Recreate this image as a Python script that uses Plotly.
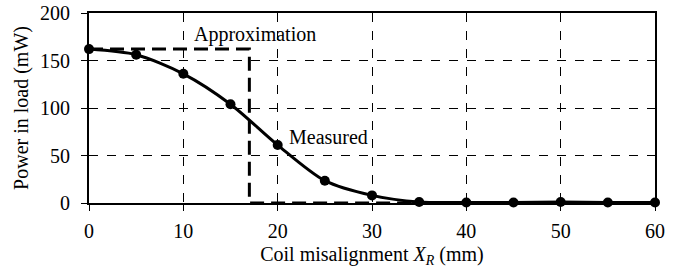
import plotly.graph_objects as go

x_measured = [0, 5, 10, 15, 20, 25, 30, 35, 40, 45, 50, 55, 60]
y_measured = [162, 156, 136, 104, 61, 23.5, 8, 1, 0.5, 0.5, 1, 0.5, 0.5]

x_approx = [0, 17, 17, 35]
y_approx = [162, 162, 0, 0]

x_ticks = [0, 10, 20, 30, 40, 50, 60]
y_ticks = [0, 50, 100, 150, 200]

FONT = "Liberation Serif"

fig = go.Figure()
fig.add_trace(go.Scatter(
    x=x_approx, y=y_approx, mode="lines",
    line=dict(color="black", width=3, dash="14px,7px"),
    cliponaxis=False, showlegend=False))
fig.add_trace(go.Scatter(
    x=x_measured, y=y_measured, mode="lines+markers",
    line=dict(color="black", width=3, shape="spline", smoothing=0.8),
    marker=dict(color="black", size=10),
    cliponaxis=False, showlegend=False))

fig.add_annotation(x=10.9, y=177, text="Approximation", showarrow=False,
                   xanchor="left", yanchor="middle",
                   font=dict(family=FONT, size=20, color="black"))
fig.add_annotation(x=21, y=70, text="Measured", showarrow=False,
                   xanchor="left", yanchor="middle",
                   font=dict(family=FONT, size=20, color="black"))

axis_common = dict(
    showline=True, linecolor="black", linewidth=2, mirror=True,
    showgrid=True, gridcolor="black", gridwidth=1, griddash="dash",
    ticks="outside", ticklen=6, tickcolor="black", tickwidth=1,
    zeroline=False, automargin=False,
    tickfont=dict(family=FONT, size=20, color="black"),
)

fig.update_xaxes(range=[0, 60], tickvals=x_ticks, ticktext=[str(v) for v in x_ticks],
                 ticklabelstandoff=3,
                 title=dict(text="Coil misalignment <i>X</i><sub><i>R</i></sub> (mm)",
                            font=dict(family=FONT, size=20, color="black"), standoff=6),
                 **axis_common)
fig.update_yaxes(range=[0, 200], tickvals=y_ticks, ticktext=[str(v) for v in y_ticks],
                 ticklabelstandoff=7,
                 title=dict(text="Power in load (mW)",
                            font=dict(family=FONT, size=20, color="black"), standoff=6),
                 **axis_common)

fig.update_layout(
    width=684, height=272,
    margin=dict(l=89, r=29, t=13, b=69),
    plot_bgcolor="white", paper_bgcolor="white",
    font=dict(family=FONT, size=20, color="black"),
)

fig.write_html("out.html", config={"displayModeBar": False},
               post_script="document.body.style.margin='0';")
